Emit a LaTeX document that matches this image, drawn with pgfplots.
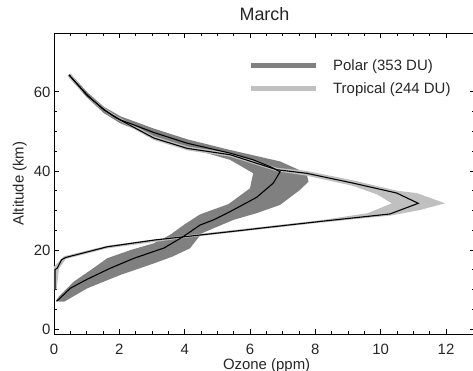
\documentclass[border=0pt]{standalone}
\usepackage{pgfplots}
\pgfplotsset{compat=1.18}
\usepackage{fontspec}
\setmainfont{Liberation Sans}
\definecolor{polargray}{HTML}{808080}
\definecolor{tropgray}{HTML}{C0C0C0}
\definecolor{txt}{HTML}{262626}
\begin{document}
\begin{tikzpicture}
\begin{axis}[
  at={(0,0)}, anchor=south west,
  scale only axis, width=421bp, height=301bp,
  xmin=0, xmax=12.886, ymin=-1.27, ymax=74.9,
  xtick={0,2,...,12}, ytick={0,20,40,60},
  minor x tick num=3, minor y tick num=3,
  tick align=inside, tick pos=both,
  major tick length=5bp, minor tick length=3bp,
  tick style={black, line width=0.8bp},
  axis line style={line width=0.9bp},
  /pgf/number format/assume math mode=true,
  tick label style={font=\fontsize{15}{15}\selectfont, text=txt},
  xticklabel style={anchor=base, yshift=-20.5bp},
  xlabel={Ozone (ppm)}, ylabel={Altitude (km)},
  label style={font=\fontsize{15}{15}\selectfont, text=txt},
  xlabel style={at={(axis description cs:0.505,-0.117)}, anchor=base},
  ylabel style={at={(axis description cs:-0.0724,0.5)}, anchor=base},
  title={March},
  title style={font=\fontsize{18}{18}\selectfont, text=txt, at={(axis description cs:0.5,1.0233)}, anchor=base},
  legend style={at={(axis description cs:0.4548,0.9256)}, anchor=north west, draw=none, fill=none,
    font=\fontsize{15}{15}\selectfont, text=txt, row sep=6.5bp, column sep=13bp},
  legend cell align=left,
  legend image code/.code={\draw[#1, line width=4.5bp] (0bp,0bp) -- (65bp,0bp);},
]
% polar band
\addplot[fill=polargray, draw=none, forget plot] coordinates {
(0.05,7.0) (0.15,8.2) (0.61,12.0) (1.12,14.9) (1.63,17.9) (2.35,20.0) (3.06,21.7)
(3.55,23.8) (4.0,26.5) (4.47,29.0) (5.34,31.6) (6.0,35.6) (6.05,37.7) (6.1,39.4)
(5.39,42.8) (4.08,45.9) (3.06,48.7) (2.04,52.0) (1.53,54.6) (1.02,58.5) (0.42,64.0)
(0.5,64.6) (1.02,59.9) (1.53,56.2) (2.04,53.8) (3.06,50.7) (4.08,48.0) (5.39,45.3)
(6.92,42.4) (7.73,39.4) (7.79,37.3) (7.53,35.2) (6.92,31.4) (6.2,29.3) (5.49,27.6)
(4.52,24.2) (4.16,20.4) (3.62,18.3) (3.06,16.6) (2.04,13.7) (1.02,10.3) (0.31,6.9)
};
% tropical band
\addplot[fill=tropgray, draw=none, forget plot] coordinates {
(0.5,64.7) (1.02,59.4) (1.53,56.0) (1.9,54.0) (3.06,48.8) (4.08,46.2) (5.39,44.6)
(6.82,40.8) (7.73,40.0) (9.16,37.6) (10.49,35.0) (11.1,34.4) (11.97,31.8) (11.2,30.1)
(10.3,28.7) (8.14,26.9) (6.31,25.2) (4.06,23.1) (1.63,20.4) (0.36,17.7) (0.15,15.2) (0.08,10.0)
(-0.02,10.0) (-0.02,15.6) (0.3,18.4) (1.63,21.1) (4.06,23.7) (6.31,25.8) (8.14,27.5)
(9.6,29.3) (10.34,31.8) (9.9,34.0) (9.16,36.2) (7.73,38.8) (6.82,39.9) (5.39,43.6)
(4.08,45.2) (3.06,47.8) (1.84,53.4) (1.53,55.2) (1.02,58.7) (0.42,64.0)
};
% polar mean
\addplot[black, line width=1.1bp, forget plot] coordinates {
(0.08,7.0) (0.5,10.3) (1.02,12.6) (1.73,15.4) (2.45,17.9) (3.37,20.5) (3.96,23.4)
(4.47,26.3) (4.88,27.6) (5.39,29.7) (6.2,33.3) (6.71,36.9) (6.92,39.8) (6.61,41.1)
(6.1,42.8) (5.39,44.5) (4.08,47.0) (3.06,49.7) (2.04,52.9) (1.53,55.4) (1.02,59.2) (0.46,64.3)
};
% tropical mean
\addplot[black, line width=1.1bp, forget plot] coordinates {
(0.46,64.3) (1.02,59.0) (1.53,55.6) (1.84,53.7) (3.06,48.3) (4.08,45.7) (5.39,44.1)
(6.82,40.3) (7.73,39.4) (9.16,36.9) (10.49,34.4) (11.15,31.8) (10.28,29.1) (8.14,27.2)
(6.31,25.5) (5.69,24.9) (4.06,23.4) (3.06,22.5) (1.63,20.8) (0.36,18.1) (0.23,17.5)
(0.1,15.4) (0.03,15.0) (0.03,10.0)
};
\addlegendimage{polargray}
\addlegendentry{Polar (353 DU)}
\addlegendimage{tropgray}
\addlegendentry{Tropical (244 DU)}
\end{axis}
\pgfresetboundingbox
\useasboundingbox (-54bp,-37bp) rectangle (419bp,334bp);
\end{tikzpicture}
\end{document}
